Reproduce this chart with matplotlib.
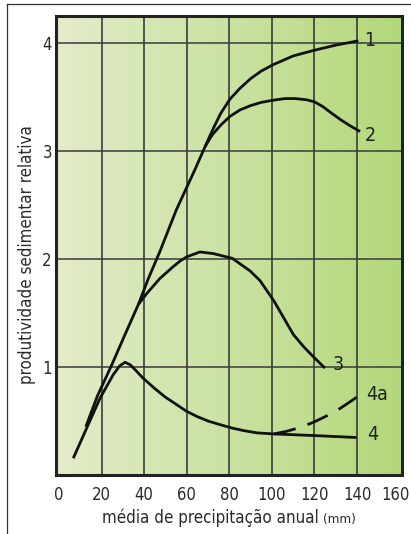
import numpy as np
import matplotlib
matplotlib.use('Agg')
import matplotlib.pyplot as plt
import matplotlib.transforms as mtransforms
from matplotlib.lines import Line2D
from matplotlib.colors import LinearSegmentedColormap

plt.rcParams['font.family'] = ['DejaVu Sans']
plt.rcParams['font.stretch'] = 'condensed'

# x ticks / y ticks
x_ticks = [0, 20, 40, 60, 80, 100, 120, 140, 160]
y_ticks = [1, 2, 3, 4]

# shared trunk (curves 1, 2, 3)
trunk_x = [12.6, 18.0, 24.8, 31.0, 37.3]
trunk_y = [0.447, 0.73, 1.02, 1.30, 1.58]
# trunk of curves 1 and 2 after curve 3 splits off
upper_x = [42.0, 47.4, 55.0, 63.9, 68.6]
upper_y = [1.82, 2.07, 2.45, 2.83, 3.04]

c1_x = [72.5, 76.0, 80.3, 85.0, 90.0, 95.0, 100.7, 110.0, 119.4, 130.0, 140.6]
c1_y = [3.21, 3.35, 3.48, 3.58, 3.67, 3.74, 3.80, 3.88, 3.93, 3.98, 4.02]

c2_x = [72.0, 76.0, 80.3, 85.0, 90.0, 95.0, 100.7, 106.0, 111.0, 116.0, 120.0, 124.0, 128.0, 133.0, 137.0, 141.4]
c2_y = [3.15, 3.24, 3.32, 3.38, 3.42, 3.45, 3.47, 3.485, 3.485, 3.475, 3.455, 3.41, 3.35, 3.28, 3.23, 3.18]

c3_x = [41.2, 47.4, 53.7, 56.8, 60.0, 66.2, 72.5, 81.4, 89.7, 94.4, 101.0, 105.4, 110.1, 114.8, 119.2, 124.9]
c3_y = [1.68, 1.82, 1.93, 1.98, 2.02, 2.065, 2.05, 2.006, 1.89, 1.80, 1.61, 1.46, 1.30, 1.19, 1.10, 0.99]

c4_x = [6.7, 13.0, 19.3, 25.5, 28.5, 31.0, 33.5, 36.0, 39.3, 45.0, 50.0, 55.0, 59.9, 65.0, 70.0, 75.0,
        81.4, 87.0, 93.0, 101.0, 110.0, 120.0, 130.0, 139.8]
c4_y = [0.155, 0.434, 0.712, 0.93, 1.01, 1.044, 1.02, 0.97, 0.90, 0.80, 0.72, 0.655, 0.59, 0.54, 0.50, 0.47,
        0.434, 0.41, 0.39, 0.38, 0.373, 0.365, 0.356, 0.347]

c4a_x = [101.0, 107.0, 113.2, 119.4, 125.0, 130.4, 135.0, 139.8]
c4a_y = [0.38, 0.405, 0.44, 0.487, 0.54, 0.595, 0.655, 0.72]

labels = ['1', '2', '3', '4a', '4']
label_x = [143.2, 143.6, 128.7, 144.2, 144.5]
label_y = [4.02, 3.14, 1.02, 0.744, 0.372]

fig = plt.figure(figsize=(4.11, 5.34), dpi=100)
ax = fig.add_axes([0.1363, 0.1105, 0.8418, 0.8596])

xmin, xmax = -1.4, 161.1
ymin, ymax = 0.0, 4.25
ax.set_xlim(xmin, xmax)
ax.set_ylim(ymin, ymax)

# background gradient
cmap = LinearSegmentedColormap.from_list('bg', ['#e3ecca', '#cbe2a2', '#b3d87a'])
grad = np.linspace(0, 1, 256).reshape(1, -1)
ax.imshow(grad, cmap=cmap, extent=[xmin, xmax, ymin, ymax], aspect='auto', zorder=0)

for xv in x_ticks[1:-1]:
    ax.axvline(xv, color='#2e2e2e', lw=1.1, zorder=1)
for yv in y_ticks:
    ax.axhline(yv, color='#3a3a3a', lw=1.1, zorder=1)

lw = 2.0
col = '#111111'
ax.plot(trunk_x + upper_x + c1_x, trunk_y + upper_y + c1_y, color=col, lw=lw, zorder=3, solid_capstyle='butt')
ax.plot(upper_x[-1:] + c2_x, upper_y[-1:] + c2_y, color=col, lw=lw, zorder=3, solid_capstyle='butt')
ax.plot(trunk_x[-1:] + c3_x, trunk_y[-1:] + c3_y, color=col, lw=lw, zorder=3, solid_capstyle='butt')
ax.plot(c4_x, c4_y, color=col, lw=lw, zorder=3, solid_capstyle='butt')
ax.plot(c4a_x, c4a_y, color=col, lw=lw, zorder=3, linestyle=(0, (8, 4.5)))

for t, lx, ly in zip(labels, label_x, label_y):
    ax.text(lx, ly, t, fontsize=14, color='#222222', ha='left', va='center', zorder=4)

ax.set_xticks(x_ticks)
ax.set_yticks(y_ticks)
ax.set_xticklabels([str(v) for v in x_ticks])
ax.set_yticklabels([str(v) for v in y_ticks])
ax.tick_params(axis='x', length=0, pad=8, labelsize=12, labelcolor='#2a2a2a')
ax.tick_params(axis='y', length=0, pad=3, labelsize=12, labelcolor='#2a2a2a')

# nudge the last x label so it stays inside the figure
last = ax.get_xticklabels()[-1]
last.set_transform(last.get_transform() + mtransforms.ScaledTranslation(-3 / 72, 0, fig.dpi_scale_trans))

for s in ax.spines.values():
    s.set_linewidth(2.2)
    s.set_color('#222222')
    s.set_zorder(5)

fig.text(0.0657, 0.524, 'produtividade sedimentar relativa', rotation=90,
         ha='center', va='center', fontsize=12.2, color='#2a2a2a')

t1 = fig.text(0.2474, 0.0212, 'média de precipitação anual', ha='left', va='baseline',
              fontsize=12.2, color='#2a2a2a')
fig.canvas.draw()
bb = t1.get_window_extent()
fig.text((bb.x1 + 5) / fig.bbox.width, 0.0212, '(mm)', ha='left', va='baseline',
         fontsize=9.5, color='#2a2a2a')

# outer frame pieces (top and left)
fig.add_artist(Line2D([7 / 411, 1.0], [1 - 4 / 534, 1 - 4 / 534], transform=fig.transFigure,
                      color='#333333', lw=0.9))
fig.add_artist(Line2D([7 / 411, 7 / 411], [0.0, 1 - 4 / 534], transform=fig.transFigure,
                      color='#333333', lw=0.9))

fig.savefig('out.png', dpi=100)
